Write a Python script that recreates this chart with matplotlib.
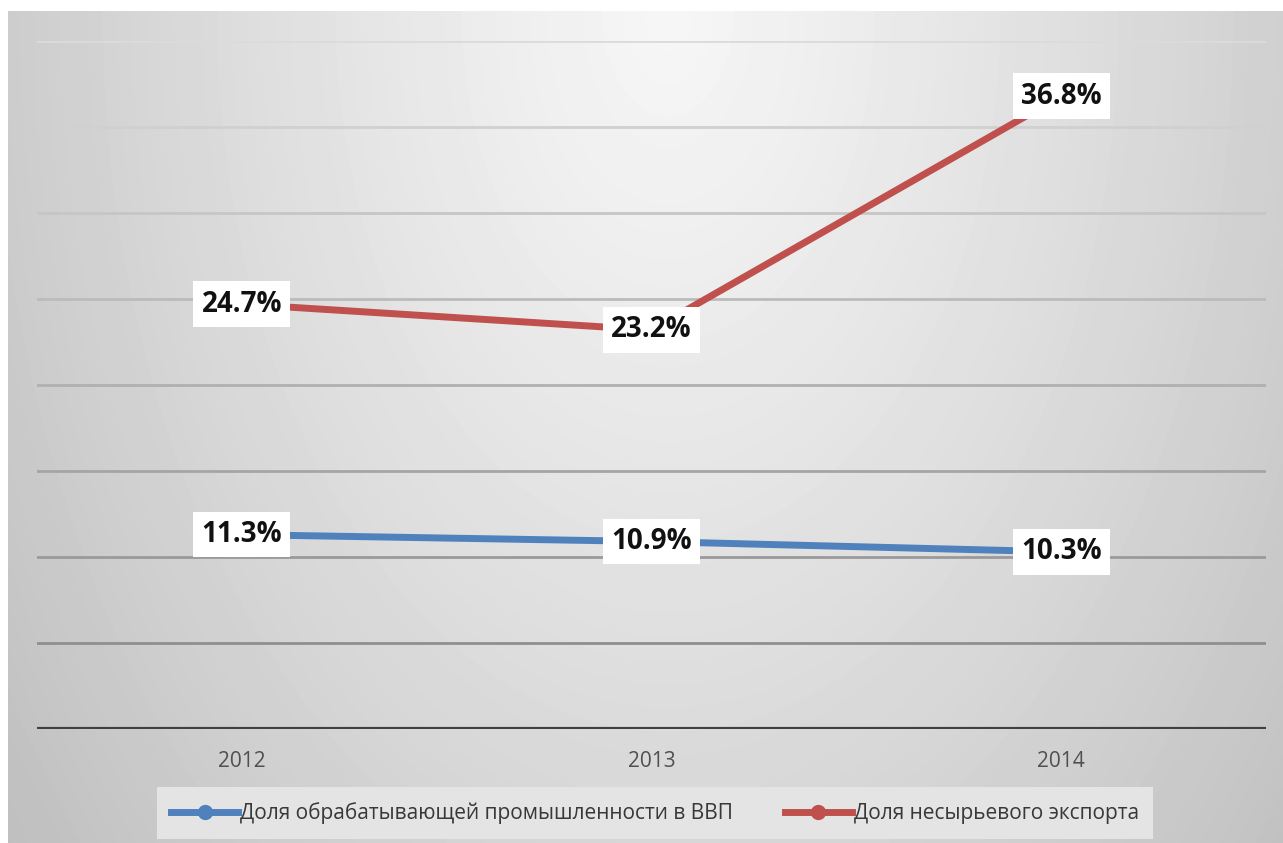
# Доля обрабатывающей промышленности и несырьевого экспорта, 2012-2014

import numpy as np
import matplotlib.pyplot as plt
from matplotlib.lines import Line2D

# Данные
years = ['2012', '2013', '2014']
manufacturing = [11.3, 10.9, 10.3]
non_resource_export = [24.7, 23.2, 36.8]
labels = ['Доля обрабатывающей промышленности в ВВП', 'Доля несырьевого экспорта']
y_ticks = [0, 5, 10, 15, 20, 25, 30, 35, 40]

blue = '#4f81bd'
red = '#c0504d'

plt.rcParams['font.family'] = ['Open Sans', 'DejaVu Sans']

fig = plt.figure(figsize=(12.83, 8.43), dpi=100)
fig.patch.set_facecolor('white')

# Фон: мягкий радиальный градиент
bg = fig.add_axes([8 / 1283, 0, 1 - 8 / 1283, 1 - 11 / 843])
h, w = 832, 1275
yy, xx = np.mgrid[0:h, 0:w]
r = np.sqrt(((xx - 660) / 720.0) ** 2 + (yy / 1150.0) ** 2)
grey = np.clip(246 - 46 * r ** 1.15, 185, 246) / 255.0
bg.imshow(grey, cmap='gray', vmin=0, vmax=1, aspect='auto', interpolation='bilinear')
bg.axis('off')

ax = fig.add_axes([37 / 1283, 1 - 729 / 843, (1266 - 37) / 1283, (729 - 41) / 843])
ax.patch.set_alpha(0)
x = np.arange(len(years))

# Линии сетки: светлее сверху, темнее снизу
for v in y_ticks[1:]:
    t = v / 40.0
    c = 0.52 + t * (0.86 - 0.52)
    ax.axhline(v, color=(c, c, c), linewidth=2, zorder=1)
ax.axhline(0, color='#404040', linewidth=3, zorder=2)

ax.plot(x, manufacturing, color=blue, linewidth=5, zorder=3, solid_capstyle='butt')
ax.plot(x, non_resource_export, color=red, linewidth=5, zorder=3, solid_capstyle='butt')

for series in (manufacturing, non_resource_export):
    for xi, v in zip(x, series):
        ax.text(xi, v, f'{v:.1f}%', ha='center', va='center', fontsize=20,
                fontweight='bold', color='#111111', zorder=5,
                bbox=dict(boxstyle='square,pad=0.3', facecolor='white', edgecolor='none'))

ax.set_xlim(-0.5, 2.5)
ax.set_ylim(0, 40)
ax.set_yticks([])
ax.set_xticks(x)
ax.set_xticklabels(years, fontsize=15, color='#505050')
ax.tick_params(axis='x', length=0, pad=16)
for s in ax.spines.values():
    s.set_visible(False)

handles = [
    Line2D([], [], color=blue, linewidth=5, marker='o', markersize=10),
    Line2D([], [], color=red, linewidth=5, marker='o', markersize=10),
]
leg = fig.legend(handles, labels, loc='center', bbox_to_anchor=(655 / 1283, 1 - 813 / 843),
                 ncol=2, fontsize=15, frameon=True, fancybox=False, handlelength=3.2,
                 handletextpad=0.1, columnspacing=2.5, borderpad=0.7)
leg.get_frame().set_facecolor('#e4e4e4')
leg.get_frame().set_edgecolor('none')
leg.get_frame().set_alpha(1)
for t in leg.get_texts():
    t.set_color('#383838')

fig.savefig('out.png', dpi=100)
